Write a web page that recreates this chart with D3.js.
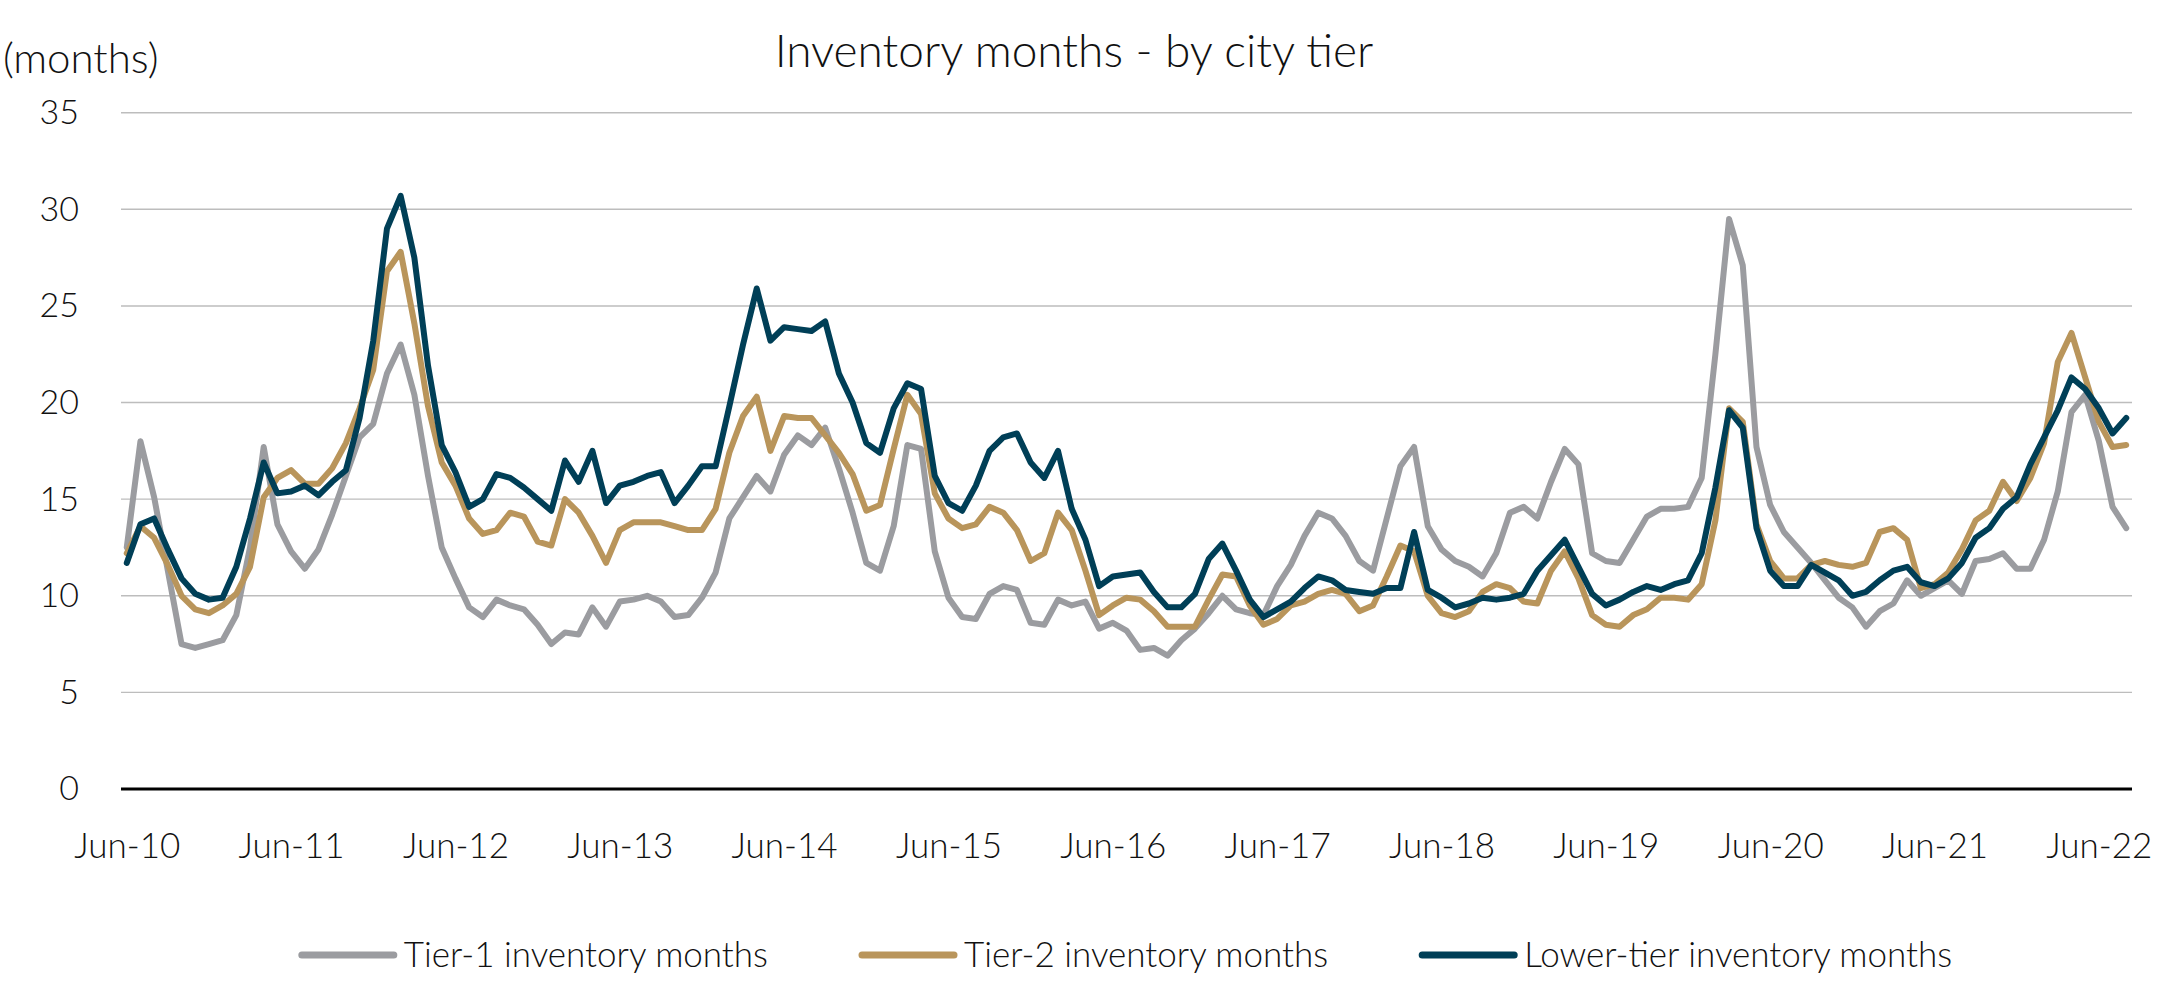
<!DOCTYPE html>
<html>
<head>
<meta charset="utf-8">
<script src="https://cdn.jsdelivr.net/npm/d3@7"></script>
<style>
  html, body { margin: 0; padding: 0; background: #ffffff; }
  svg { display: block; }
  text { font-family: Lato, "Open Sans", "DejaVu Sans", sans-serif; font-weight: 300; fill: #111; }
</style>
</head>
<body>
<svg id="chart" width="2182" height="1004"></svg>
<script>
// ---- Data (Jun-2010 .. Aug-2022, monthly) ----
const startMonth = new Date(2010, 5, 1);
const endMonthExclusive = new Date(2022, 8, 1);
const months = d3.timeMonth.range(startMonth, endMonthExclusive);

const tickLabels = ["Jun-10","Jun-11","Jun-12","Jun-13","Jun-14","Jun-15","Jun-16","Jun-17","Jun-18","Jun-19","Jun-20","Jun-21","Jun-22"];
const yTicks = [0, 5, 10, 15, 20, 25, 30, 35];

const tier1 = [
  12.5,18.0,15.1,11.3,7.5,7.3,7.5,7.7,9.0,12.5,17.7,13.7,12.3,11.4,12.4,14.2,16.2,18.2,18.9,21.5,
  23.0,20.4,16.2,12.5,10.9,9.4,8.9,9.8,9.5,9.3,8.5,7.5,8.1,8.0,9.4,8.4,9.7,9.8,10.0,9.7,
  8.9,9.0,9.9,11.2,14.0,15.1,16.2,15.4,17.3,18.3,17.8,18.7,16.6,14.3,11.7,11.3,13.6,17.8,17.6,12.3,
  9.9,8.9,8.8,10.1,10.5,10.3,8.6,8.5,9.8,9.5,9.7,8.3,8.6,8.2,7.2,7.3,6.9,7.7,8.3,9.1,
  10.0,9.3,9.1,9.0,10.5,11.6,13.1,14.3,14.0,13.1,11.8,11.3,14.0,16.7,17.7,13.6,12.4,11.8,11.5,11.0,
  12.2,14.3,14.6,14.0,15.9,17.6,16.8,12.2,11.8,11.7,12.9,14.1,14.5,14.5,14.6,16.1,22.5,29.5,27.1,17.7,
  14.7,13.3,12.5,11.7,10.8,9.9,9.4,8.4,9.2,9.6,10.8,10.0,10.4,10.8,10.1,11.8,11.9,12.2,11.4,11.4,
  12.9,15.4,19.5,20.4,18.0,14.6,13.5
];
const tier2 = [
  12.2,13.6,13.0,11.6,10.0,9.3,9.1,9.5,10.1,11.5,15.1,16.1,16.5,15.8,15.8,16.6,17.9,19.7,21.7,26.8,
  27.8,24.1,19.8,16.9,15.7,14.0,13.2,13.4,14.3,14.1,12.8,12.6,15.0,14.3,13.1,11.7,13.4,13.8,13.8,13.8,
  13.6,13.4,13.4,14.5,17.4,19.3,20.3,17.5,19.3,19.2,19.2,18.3,17.4,16.3,14.4,14.7,17.6,20.4,19.4,15.3,
  14.0,13.5,13.7,14.6,14.3,13.4,11.8,12.2,14.3,13.4,11.3,9.0,9.5,9.9,9.8,9.2,8.4,8.4,8.4,9.8,
  11.1,11.0,9.5,8.5,8.8,9.5,9.7,10.1,10.3,10.1,9.2,9.5,11.0,12.6,12.3,10.0,9.1,8.9,9.2,10.2,
  10.6,10.4,9.7,9.6,11.3,12.3,10.9,9.0,8.5,8.4,9.0,9.3,9.9,9.9,9.8,10.6,13.9,19.7,19.0,13.7,
  11.8,10.9,10.9,11.6,11.8,11.6,11.5,11.7,13.3,13.5,12.9,10.4,10.6,11.2,12.4,13.9,14.4,15.9,14.9,16.1,
  17.9,22.1,23.6,21.3,19.0,17.7,17.8
];
const lowerTier = [
  11.7,13.7,14.0,12.4,10.9,10.1,9.8,9.9,11.5,14.0,16.9,15.3,15.4,15.7,15.2,15.9,16.5,19.2,23.2,29.0,
  30.7,27.5,21.9,17.8,16.4,14.6,15.0,16.3,16.1,15.6,15.0,14.4,17.0,15.9,17.5,14.8,15.7,15.9,16.2,16.4,
  14.8,15.7,16.7,16.7,19.8,23.0,25.9,23.2,23.9,23.8,23.7,24.2,21.5,20.0,17.9,17.4,19.7,21.0,20.7,16.2,
  14.8,14.4,15.7,17.5,18.2,18.4,16.9,16.1,17.5,14.5,12.9,10.5,11.0,11.1,11.2,10.2,9.4,9.4,10.1,11.9,
  12.7,11.3,9.8,8.9,9.3,9.7,10.4,11.0,10.8,10.3,10.2,10.1,10.4,10.4,13.3,10.3,9.9,9.4,9.6,9.9,
  9.8,9.9,10.1,11.3,12.1,12.9,11.5,10.1,9.5,9.8,10.2,10.5,10.3,10.6,10.8,12.2,15.6,19.6,18.7,13.5,
  11.3,10.5,10.5,11.6,11.2,10.8,10.0,10.2,10.8,11.3,11.5,10.7,10.5,10.9,11.7,13.0,13.5,14.5,15.1,16.8,
  18.2,19.6,21.3,20.7,19.7,18.4,19.2
];

const seriesNames = ["Tier-1 inventory months", "Tier-2 inventory months", "Lower-tier inventory months"];
const seriesValues = [tier1, tier2, lowerTier];
const seriesColors = ["#9b9ca0", "#b9955b", "#003f57"];

const titleText = "Inventory months - by city tier";
const unitText = "(months)";

// ---- Layout ----
const svg = d3.select("#chart");
const plotLeft = 121, plotRight = 2132, plotTop = 112.7, plotBottom = 789;
const fmt = d3.timeFormat("%b-%y");
const cats = months.map(fmt);

const x = d3.scalePoint().domain(cats).range([plotLeft, plotRight]).padding(0.42);
const y = d3.scaleLinear().domain([0, 35]).range([plotBottom, plotTop]);

// gridlines
svg.append("g")
  .selectAll("line")
  .data(yTicks.filter(d => d !== 0))
  .join("line")
  .attr("x1", plotLeft).attr("x2", plotRight)
  .attr("y1", d => y(d)).attr("y2", d => y(d))
  .attr("stroke", "#bdbdbd").attr("stroke-width", 1.4);

// y axis labels
const yAxis = svg.append("g")
  .attr("transform", `translate(${plotLeft},0)`)
  .call(d3.axisLeft(y).tickValues(yTicks).tickSize(0).tickPadding(42));
yAxis.select(".domain").remove();
yAxis.selectAll("text")
  .attr("font-size", 34).attr("font-family", "Lato, sans-serif").attr("font-weight", 300).attr("fill", "#111");

// series lines
const line = d3.line()
  .x((d, i) => x(cats[i]))
  .y(d => y(d));

svg.append("g")
  .selectAll("path")
  .data(seriesValues)
  .join("path")
  .attr("d", d => line(d))
  .attr("fill", "none")
  .attr("stroke", (d, i) => seriesColors[i])
  .attr("stroke-width", 6)
  .attr("stroke-linejoin", "round")
  .attr("stroke-linecap", "round");

// x axis
const xAxis = svg.append("g")
  .attr("transform", `translate(0,${plotBottom})`)
  .call(d3.axisBottom(x).tickValues(tickLabels).tickSize(0).tickPadding(44));
xAxis.select(".domain").remove();
xAxis.selectAll("text")
  .attr("font-size", 35).attr("font-family", "Lato, sans-serif").attr("font-weight", 300).attr("fill", "#111");
svg.append("line")
  .attr("x1", plotLeft).attr("x2", plotRight)
  .attr("y1", plotBottom).attr("y2", plotBottom)
  .attr("stroke", "#000").attr("stroke-width", 3);

// title & unit
svg.append("text")
  .attr("x", 1074).attr("y", 67)
  .attr("text-anchor", "middle")
  .attr("font-size", 46)
  .text(titleText);
svg.append("text")
  .attr("x", 3).attr("y", 73)
  .attr("font-size", 42)
  .text(unitText);

// legend
const legendY = 955;
const legendCenter = 1127;
const lineLen = 92, textGap = 10, itemGap = 94;
const lg = svg.append("g");
const items = lg.selectAll("g").data(seriesNames).join("g");
items.append("line")
  .attr("x1", 0).attr("x2", lineLen)
  .attr("y1", 0).attr("y2", 0)
  .attr("stroke", (d, i) => seriesColors[i])
  .attr("stroke-width", 7)
  .attr("stroke-linecap", "round");
items.append("text")
  .attr("x", lineLen + textGap)
  .attr("y", 0)
  .attr("dy", "0.35em")
  .attr("font-size", 35)
  .text(d => d);
const widths = [];
items.each(function () {
  widths.push(lineLen + textGap + this.querySelector("text").getComputedTextLength());
});
const total = d3.sum(widths) + itemGap * (widths.length - 1);
let cx = legendCenter - total / 2;
items.attr("transform", (d, i) => {
  const t = `translate(${cx},${legendY})`;
  cx += widths[i] + itemGap;
  return t;
});
</script>
</body>
</html>
